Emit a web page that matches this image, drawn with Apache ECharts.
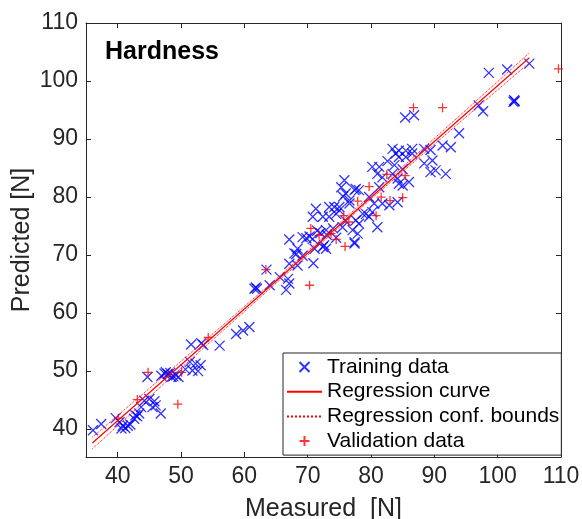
<!DOCTYPE html>
<html>
<head>
<meta charset="utf-8">
<script src="https://cdn.jsdelivr.net/npm/echarts@6/dist/echarts.min.js"></script>
<style>
html, body { margin: 0; padding: 0; background: #fff; }
#chart { width: 582px; height: 519px; }
</style>
</head>
<body>
<div id="chart"></div>
<script>
var xTicks = [40, 50, 60, 70, 80, 90, 100, 110];
var yTicks = [40, 50, 60, 70, 80, 90, 100, 110];

// [measured, predicted]
var trainingData = [
  [36.1,39.8],[37.4,40.9],[39.7,41.9],[40.3,41.2],[40.8,40.6],[41.2,40.2],[41.6,40.6],[40.6,40.1],
  [42.0,40.8],[42.6,41.8],[43.1,42.2],[43.4,42.7],[42.8,42.4],[43.7,43.8],[44.2,44.9],[45.0,45.2],
  [45.8,44.8],[45.5,43.8],[46.0,44.1],[46.8,42.7],[44.7,49.0],[46.9,49.2],[47.4,49.6],[47.9,49.5],
  [48.3,49.7],[48.8,49.1],[49.2,49.3],[48.5,49.0],[47.6,49.8],[49.6,49.0],[50.7,50.3],[51.4,51.6],
  [51.8,50.1],[52.3,51.3],[53.1,51.0],[52.7,50.0],[51.6,54.6],[53.5,54.5],[53.2,54.8],[56.1,54.4],
  [58.7,56.4],[59.8,57.0],[60.8,57.6],[61.6,64.2],[61.8,64.4],[62.0,64.2],[64.0,64.8],[63.5,67.5],
  [65.6,66.2],[66.9,65.9],[67.1,65.1],[66.6,64.0],[67.1,68.5],[68.2,70.2],[68.4,68.2],[67.9,70.3],
  [67.1,72.7],[68.4,71.1],[69.2,69.9],[69.2,73.1],[69.8,72.9],[70.3,73.2],[70.8,72.8],[70.9,68.6],
  [71.1,71.1],[72.6,71.7],[72.4,71.4],[72.9,71.1],[70.8,76.6],[71.3,78.0],[72.4,76.6],[73.4,76.6],
  [74.5,77.1],[72.9,74.3],[74.0,74.6],[73.4,78.3],[74.2,78.3],[75.0,78.3],[75.0,77.7],[75.3,81.7],
  [75.6,80.1],[76.0,80.6],[76.6,78.9],[78.1,81.2],[77.1,74.3],[77.9,73.7],[77.4,72.2],[77.4,72.0],
  [77.6,76.0],[78.1,75.4],[79.2,77.1],[79.7,76.6],[78.7,77.1],[80.2,77.4],[81.0,74.8],[75.8,82.9],
  [77.4,81.2],[77.6,81.4],[76.6,79.4],[73.0,73.5],[72.0,73.8],[71.5,74.2],[74.5,73.0],[75.5,74.8],
  [76.0,75.9],[79.7,80.0],[80.5,78.9],[81.8,78.9],[82.9,78.6],[84.2,79.1],[81.3,81.7],[80.2,85.2],
  [81.3,85.2],[81.0,84.0],[81.8,83.4],[83.4,84.0],[84.2,83.2],[84.4,82.3],[85.0,82.0],[86.0,82.6],
  [83.4,88.3],[84.4,88.0],[85.5,88.0],[86.5,88.3],[83.9,87.5],[84.4,86.9],[85.5,86.9],[86.5,87.5],
  [83.7,85.5],[82.6,86.2],[85.0,84.8],[88.4,88.3],[89.4,88.1],[91.3,88.9],[92.6,88.6],[93.9,91.0],
  [88.4,85.8],[89.7,86.3],[90.2,84.6],[89.4,84.3],[91.8,84.0],[85.4,93.7],[86.8,94.1],[97.0,95.8],
  [97.7,94.8],[98.6,101.4],[101.5,102.0],[105.0,103.0],[102.6,96.7],[102.7,96.5],[102.5,96.4]
];

var validationData = [
  [40.1,41.9],[43.1,45.1],[44.8,49.8],[49.5,44.3],[50.1,49.8],[54.3,55.8],[63.4,67.5],[70.3,64.8],
  [70.5,74.6],[71.8,73.4],[73.7,73.7],[74.5,72.7],[75.9,71.5],[75.7,76.8],[76.5,75.7],[77.9,79.3],
  [79.7,81.8],[80.8,76.8],[81.6,80.0],[82.5,83.9],[83.0,79.4],[85.0,79.9],[85.4,83.7],[86.7,95.4],
  [91.3,95.4],[109.6,102.1]
];

var regX = [36, 105];
var regY = [37.6, 104.0];
var boundX = [36, 50, 65, 80, 95, 105];
var boundUpper = [38.6, 51.7, 65.85, 80.35, 95.0, 104.85];
var boundLower = [36.6, 50.5, 65.15, 79.65, 93.8, 103.15];

function zip(a, b) {
  return a.map(function (v, i) { return [v, b[i]]; });
}

var font = '"Liberation Sans", Helvetica, Arial, sans-serif';
var crossPath = 'path://M0,0L10,10M10,0L0,10';
var plusPath = 'path://M5,0L5,10M0,5L10,5';

var chart = echarts.init(document.getElementById('chart'));

function frameAxis(pos, min, max, ticks, labels) {
  return {
    type: 'value', position: pos, min: min, max: max,
    axisLine: { show: true, onZero: false, lineStyle: { color: '#262626', width: 1 } },
    axisTick: { show: true, inside: true, length: 5, customValues: ticks, lineStyle: { color: '#262626' } },
    axisLabel: labels ? { show: true, customValues: ticks, fontSize: 23, color: '#262626', fontFamily: font, margin: 8 } : { show: false },
    splitLine: { show: false }
  };
}

var xBottom = frameAxis('bottom', 35, 110, xTicks, true);
xBottom.name = 'Measured  [N]';
xBottom.nameLocation = 'middle';
xBottom.nameGap = 40;
xBottom.nameTextStyle = { fontSize: 25, color: '#262626', fontFamily: font };
var yLeft = frameAxis('left', 35.2, 110, yTicks, true);
yLeft.name = 'Predicted [N]';
yLeft.nameLocation = 'middle';
yLeft.nameGap = 51;
yLeft.nameMoveOverlap = false;
yLeft.nameTextStyle = { fontSize: 25, color: '#262626', fontFamily: font };

var hideSymbol = { opacity: 0 };

option = {
  animation: false,
  backgroundColor: '#fff',
  title: {
    text: 'Hardness', left: 100, top: 35,
    textStyle: { fontSize: 25, fontWeight: 'bold', color: '#000', fontFamily: font }
  },
  grid: { left: 86, right: 21, top: 23, bottom: 62, containLabel: false, outerBoundsMode: 'none' },
  xAxis: [xBottom, frameAxis('top', 35, 110, xTicks, false)],
  yAxis: [yLeft, frameAxis('right', 35.2, 110, yTicks, false)],
  legend: {
    orient: 'vertical', left: 283, top: 353,
    padding: [3, 2, 3, 3],
    itemWidth: 35, itemHeight: 10, itemGap: 2.7,
    borderColor: '#262626', borderWidth: 1, backgroundColor: '#fff',
    textStyle: { fontSize: 21, lineHeight: 22, color: '#000', fontFamily: font },
    data: [
      { name: 'Training data' },
      { name: 'Regression curve', itemStyle: hideSymbol },
      { name: 'Regression conf. bounds', itemStyle: hideSymbol },
      { name: 'Validation data' }
    ]
  },
  series: [
    {
      name: 'Training data', type: 'scatter', data: trainingData,
      symbol: crossPath, symbolSize: 10,
      itemStyle: { color: 'rgba(0,0,0,0)', borderColor: '#0000ff', borderWidth: 1.3 }
    },
    {
      name: 'Regression curve', type: 'line', data: zip(regX, regY),
      symbol: 'none', lineStyle: { color: '#ff0000', width: 1.2 }, itemStyle: { color: '#ff0000' }
    },
    {
      name: 'Regression conf. bounds', type: 'line', data: zip(boundX, boundUpper),
      symbol: 'none', lineStyle: { color: '#ff0000', width: 1, type: 'dotted' }, itemStyle: { color: '#ff0000' }
    },
    {
      name: 'Regression conf. bounds', type: 'line', data: zip(boundX, boundLower),
      symbol: 'none', lineStyle: { color: '#ff0000', width: 1, type: 'dotted' }, itemStyle: { color: '#ff0000' }
    },
    {
      name: 'Validation data', type: 'scatter', data: validationData,
      symbol: plusPath, symbolSize: 9,
      itemStyle: { color: 'rgba(0,0,0,0)', borderColor: '#ff0000', borderWidth: 1.3 }
    }
  ]
};
chart.setOption(option);
</script>
</body>
</html>
